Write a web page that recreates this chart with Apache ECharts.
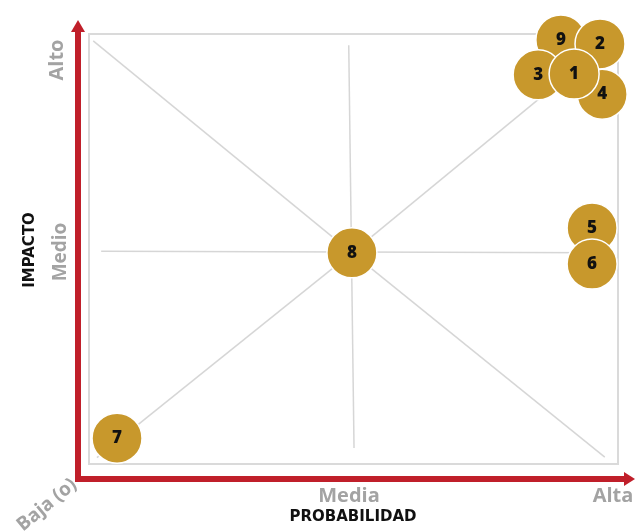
<!DOCTYPE html>
<html><head><meta charset="utf-8">
<script src="https://cdn.jsdelivr.net/npm/echarts@6/dist/echarts.min.js"></script>
<style>html,body{margin:0;padding:0;background:#fff}#c{width:635px;height:531px}</style>
</head><body><div id="c"></div>
<script>
const riskIds = ['7', '8', '5', '6', '9', '3', '2', '4', '1'];
const probabilidad = [5.3, 49.7, 95.1, 95.1, 89.2, 84.9, 96.6, 97.0, 91.7];
const impacto = [6.0, 49.1, 54.9, 46.5, 98.6, 90.5, 97.7, 86.0, 90.7];
const xTickLabels = ['Baja (o)', 'Media', 'Alta'];
const yTickLabels = ['Alto', 'Medio'];
const xTitle = 'PROBABILIDAD';
const yTitle = 'IMPACTO';
// decorative guide lines (corner-to-center and cross), in data units
const guideLines = [
  [[0.8, 98.4], [49.7, 49.1]],
  [[49.7, 49.1], [98.5, 98.5]],
  [[49.7, 49.1], [97.5, 1.6]],
  [[1.5, 1.5], [49.7, 49.1]],
  [[49.1, 97.4], [50.1, 3.7]],
  [[2.3, 49.5], [96.6, 49.1]]
];

const chart = echarts.init(document.getElementById('c'), null, {renderer: 'canvas'});
const FONT = '"Open Sans", "DejaVu Sans", sans-serif';
const TFONT = '"DejaVu Sans", sans-serif';
const GRAY = '#a3a3a3';
const RED = '#c01f2a';

const data = riskIds.map((id, i) => ({name: id, value: [probabilidad[i], impacto[i]]}));

chart.setOption({
  animation: false,
  backgroundColor: '#fff',
  grid: {left: 89, top: 34, width: 529, height: 430, show: true, borderColor: '#dadada', borderWidth: 2, backgroundColor: 'transparent'},
  xAxis: {type: 'value', min: 0, max: 100, show: false},
  yAxis: {type: 'value', min: 0, max: 100, show: false},
  series: [{
    type: 'scatter',
    clip: false,
    symbolSize: 50,
    data: data,
    itemStyle: {color: '#c8982c', borderColor: '#ffffff', borderWidth: 1.5, opacity: 1},
    label: {show: true, position: 'inside', formatter: p => p.name, color: '#111', fontSize: 17, fontWeight: 800, fontFamily: FONT},
    z: 5,
    markLine: {
      silent: true, symbol: 'none', z: 1,
      label: {show: false},
      lineStyle: {color: '#d6d6d6', width: 1.5, type: 'solid'},
      data: guideLines.map(s => [{coord: s[0]}, {coord: s[1]}])
    }
  }],
  graphic: [
    {type: 'line', shape: {x1: 78, y1: 482, x2: 78, y2: 30}, style: {stroke: RED, lineWidth: 6}, z: 10},
    {type: 'polygon', shape: {points: [[71, 32], [85, 32], [78, 20]]}, style: {fill: RED}, z: 10},
    {type: 'line', shape: {x1: 75, y1: 479, x2: 626, y2: 479}, style: {stroke: RED, lineWidth: 6}, z: 10},
    {type: 'polygon', shape: {points: [[624, 472], [624, 486], [635, 479]]}, style: {fill: RED}, z: 10},
    {type: 'text', x: 57, y: 60, rotation: Math.PI / 2, style: {text: yTickLabels[0], fill: GRAY, font: 'bold 20px ' + FONT, textAlign: 'center', textVerticalAlign: 'middle'}},
    {type: 'text', x: 61, y: 252, rotation: Math.PI / 2, style: {text: yTickLabels[1], fill: GRAY, font: 'bold 19px ' + FONT, textAlign: 'center', textVerticalAlign: 'middle'}},
    {type: 'text', x: 30, y: 250, rotation: Math.PI / 2, style: {text: yTitle, fill: '#111', font: 'bold 15px ' + TFONT, textAlign: 'center', textVerticalAlign: 'middle'}},
    {type: 'text', x: 47, y: 505, rotation: Math.PI * 0.22, style: {text: xTickLabels[0], fill: GRAY, font: 'bold 19px ' + FONT, textAlign: 'center', textVerticalAlign: 'middle'}},
    {type: 'text', x: 349, y: 496, style: {text: xTickLabels[1], fill: GRAY, font: 'bold 20px ' + FONT, textAlign: 'center', textVerticalAlign: 'middle'}},
    {type: 'text', x: 613, y: 496, style: {text: xTickLabels[2], fill: GRAY, font: 'bold 20px ' + FONT, textAlign: 'center', textVerticalAlign: 'middle'}},
    {type: 'text', x: 353, y: 517, style: {text: xTitle, fill: '#111', font: 'bold 15px ' + TFONT, textAlign: 'center', textVerticalAlign: 'middle'}}
  ]
});
</script></body></html>
